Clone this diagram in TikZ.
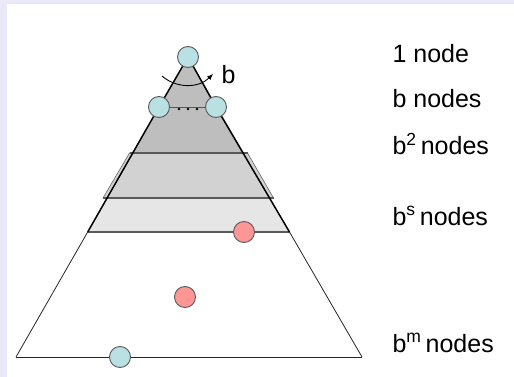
\documentclass[tikz,border=0pt]{standalone}
\usepackage{fontspec}
\setmainfont{Liberation Sans}
\usepackage{xcolor}
\usetikzlibrary{arrows.meta,positioning}
\definecolor{framebg}{HTML}{E8E8F6}
\definecolor{nodeblue}{HTML}{B9E1E4}
\definecolor{nodered}{HTML}{FF9696}
\definecolor{topgray}{HTML}{BEBEBE}
\definecolor{midgray}{HTML}{D2D2D2}
\definecolor{lowgray}{HTML}{E6E6E6}

\begin{document}
\begin{tikzpicture}[x=1pt,y=-1pt,
  vnode/.style={circle,draw=black!65,line width=0.9pt,fill=nodeblue,minimum size=21pt,inner sep=0pt},
  hit/.style={vnode,fill=nodered},
  level/.style={draw=black!65,line width=1.4pt},
  side/.style={line width=0.8pt,black!85},
  treeedge/.style={line width=1.5pt,black},
  lab/.style={anchor=base west,font=\fontsize{25}{30}\selectfont}
]
\fill[framebg] (0,0) rectangle (514,377);
\fill[white] (7,4) rectangle (514,377);
\useasboundingbox (0,0) rectangle (514,377);

\coordinate (bl) at (16,357);
\coordinate (br) at (362,357);
\coordinate (lk) at (87.7,232);
\coordinate (rk) at (289.5,232);

\fill[topgray] (188,57) -- (133,153) -- (244,153) -- cycle;
\filldraw[fill=midgray,draw=black!60,line width=0.6pt] (129.5,153) -- (247.5,153) -- (273.5,198) -- (103,198) -- cycle;
\fill[lowgray] (107,198) -- (270,198) -- (rk) -- (lk) -- cycle;

\draw[level] (129.5,153) -- (247.5,153);
\draw[level] (103,198) -- (273.5,198);
\draw[level] (lk) -- (rk);

\node[vnode] (top) at (188,57) {};
\node[vnode] (bnl) at (159,107) {};
\node[vnode] (bnr) at (216,107) {};
\node[hit] (hita) at (244,232) {};
\node[hit] (hitb) at (185,297) {};
\node[vnode] (leaf) at (120,357) {};

\draw[treeedge] (top) -- (bnl);
\draw[treeedge] (top) -- (bnr);
\draw[treeedge] (bnl) -- (lk);
\draw[treeedge] (bnr) -- (rk);
\draw[side] (lk) -- (bl);
\draw[side] (rk) -- (br);
\draw[side] (bl) -- (leaf) -- (br);
\draw[draw=black!65,line width=0.8pt] (bnl) -- (bnr);
\foreach \x in {179,188,197}
  \fill (\x,109) circle (1.4);

\coordinate (arcs) at (162,76);
\coordinate (arce) at (213,74);
\draw[line width=0.9pt,-{Latex[length=6pt,width=5pt]}] (arcs) .. controls (177,89) and (199,88) .. (arce);
\node[lab] (blab) at (218,84) {b};

\node[lab] (l0) at (389,63) {1 node};
\node[lab] (l1) at (389,108) {b nodes};
\node[lab] (l2) at (389,155) {b\textsuperscript{2}\,nodes};
\node[lab] (ls) at (389,225) {b\textsuperscript{s}\,nodes};
\node[lab] (lm) at (389,352) {b\textsuperscript{m}\,nodes};
\end{tikzpicture}
\end{document}
